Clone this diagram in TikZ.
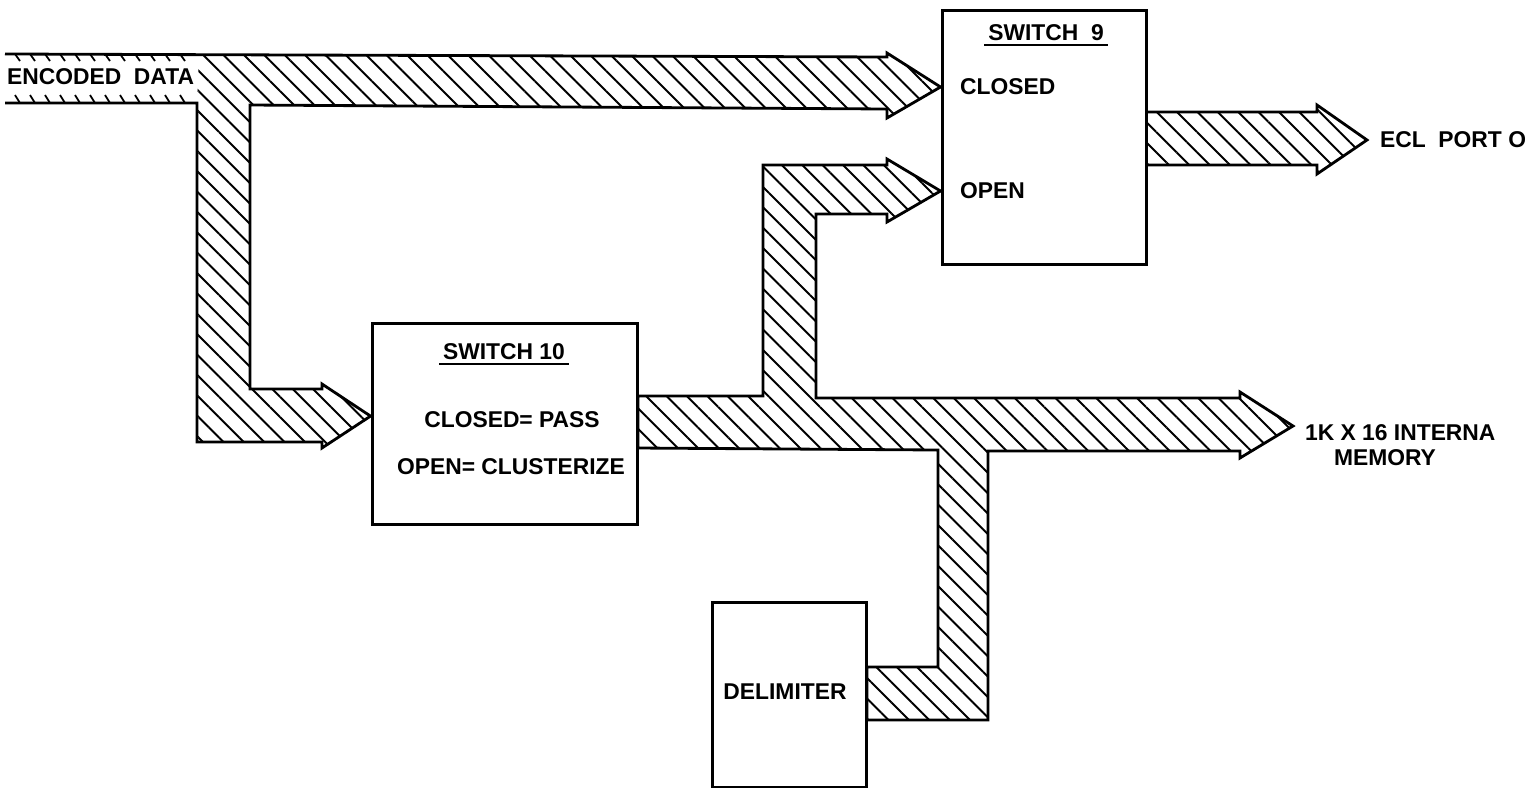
\documentclass[tikz,border=0pt]{standalone}
\usepackage{fontspec}
\setmainfont{Liberation Sans}
\usetikzlibrary{patterns.meta}

\tikzset{
  bus/.style={pattern={Lines[angle=-45, distance=8.2pt, line width=1.1pt]}},
  busline/.style={line width=1.6pt, line join=miter},
  blockbox/.style={draw, line width=1.7pt, inner sep=0pt},
  lbl/.style={font=\fontsize{13}{15}\selectfont\bfseries, inner sep=1pt},
  title/.style={lbl, inner sep=2pt},
}

\begin{document}
\begin{tikzpicture}[x=0.02cm, y=-0.02cm]
\useasboundingbox (0,0) rectangle (1529,789);

% blocks
\node[blockbox, minimum width=4.1cm, minimum height=5.1cm] (sw9) at (1044.5,137.5) {};
\node[title] (sw9t) at (1046,33) {SWITCH\ \ 9};
\draw[line width=1.3pt] (sw9t.south west) -- (sw9t.south east);
\node[lbl, anchor=west] (closed) at (958,87) {CLOSED};
\node[lbl, anchor=west] (open) at (958,191) {OPEN};

\node[blockbox, minimum width=5.32cm, minimum height=4.04cm] (sw10) at (505,424) {};
\node[title] (sw10t) at (504,352) {SWITCH 10};
\draw[line width=1.3pt] (sw10t.south west) -- (sw10t.south east);
\node[lbl] (pass) at (512,420) {CLOSED= PASS};
\node[lbl] (clust) at (511,467) {OPEN= CLUSTERIZE};

\node[blockbox, minimum width=3.1cm, minimum height=3.7cm] (delim) at (789.5,694.5) {};
\node[lbl] (delimt) at (785,692) {DELIMITER};

% bus ends and labels
\coordinate (ecltip) at (1367,140);
\node[lbl, anchor=west] (ecl) at (1378,140) {ECL\ \ PORT O};
\coordinate (memtip) at (1293,426);
\node[lbl, anchor=west] (mem) at (1303,433) {1K X 16 INTERNA};
\node[lbl] (mem2) at (1385,458) {MEMORY};

% encoded data input
\node[lbl, anchor=west] (enc) at (5,77) {ENCODED\ \ DATA};
\foreach \x in {20,35,...,190} {
  \draw[line width=1pt] (\x-5,54) -- (\x,61);
  \draw[line width=1pt] (\x-5,95) -- (\x,103);
}

% input bus -> switch 9 closed and switch 10
\fill[bus] (199,54) -- (887,57) -- (887,53) -- (sw9.west |- closed) -- (887,118) -- (887,109)
  -- (250,105) -- (250,389) -- (322,389) -- (322,384) -- ([yshift=4.5pt]sw10.west) -- (322,448)
  -- (322,442) -- (197,442) -- (197,103) -- cycle;
\draw[busline] (5,54) -- (887,57) -- (887,53) -- (sw9.west |- closed) -- (887,118) -- (887,109)
  -- (250,105) -- (250,389) -- (322,389) -- (322,384) -- ([yshift=4.5pt]sw10.west) -- (322,448)
  -- (322,442) -- (197,442) -- (197,103) -- (5,103);

% switch 10 -> switch 9 open, memory, delimiter
\draw[busline, bus] (638,396) -- (763,396) -- (763,165) -- (887,165) -- (887,159) -- (sw9.west |- open)
  -- (887,222) -- (887,214) -- (816,214) -- (816,398) -- (1240,398) -- (1240,392) -- (memtip)
  -- (1240,458) -- (1240,451) -- (988,451) -- (988,720) -- (867,720) -- (867,667) -- (938,667)
  -- (938,450) -- (638,448) -- cycle;

% switch 9 -> ecl port
\draw[busline, bus] (1147,112) -- (1317,112) -- (1317,105) -- (ecltip) -- (1317,174) -- (1317,165)
  -- (1147,165);

\end{tikzpicture}
\end{document}
